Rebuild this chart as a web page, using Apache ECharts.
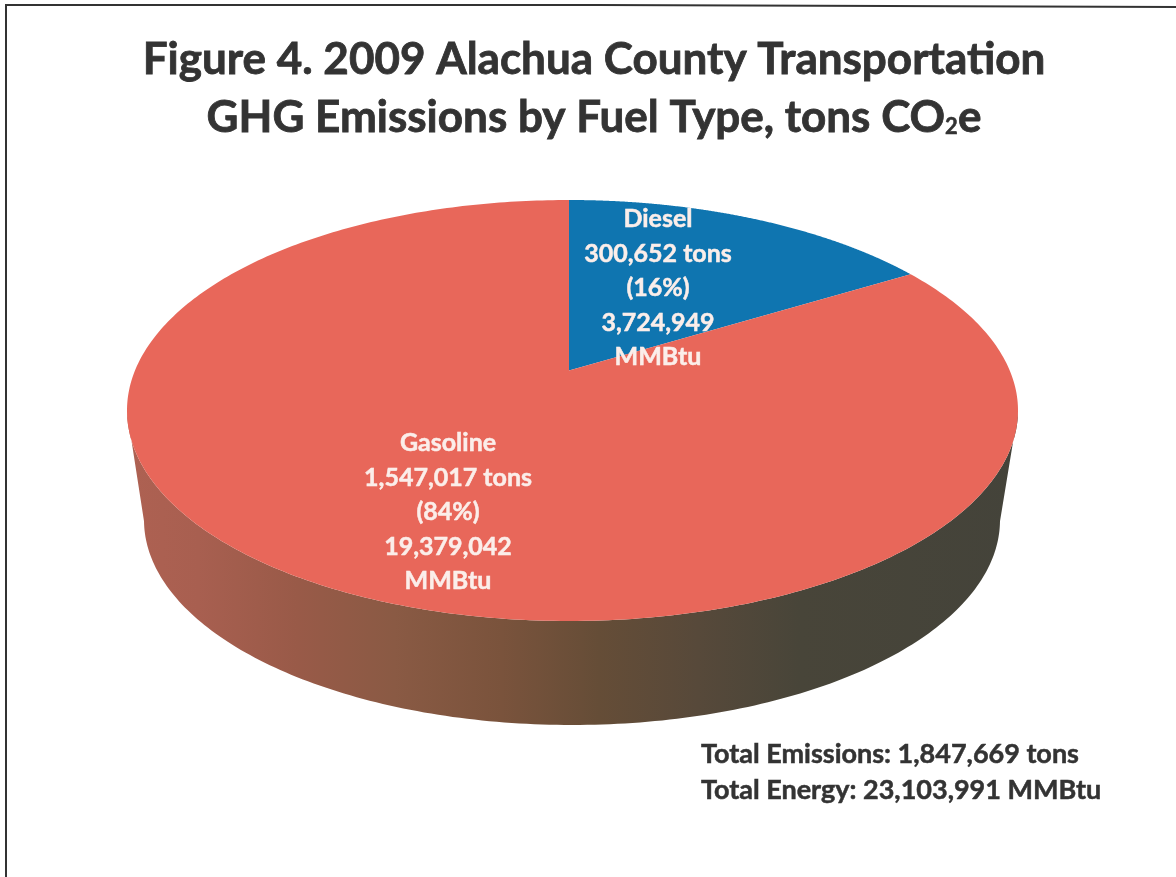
<!DOCTYPE html>
<html>
<head>
<meta charset="utf-8">
<title>Figure 4</title>
<script src="https://cdn.jsdelivr.net/npm/echarts@6/dist/echarts.min.js"></script>
<style>
  html, body { margin: 0; padding: 0; background: #fff; }
  #chart { width: 1176px; height: 877px; }
</style>
</head>
<body>
<div id="chart"></div>
<script>
// data
const fuelNames = ['Diesel', 'Gasoline']
const fuelTons = [300652, 1547017]
const fuelEnergy = [3724949, 19379042]

const totalTons = fuelTons.reduce((a, b) => a + b, 0)
const totalEnergy = fuelEnergy.reduce((a, b) => a + b, 0)
const fmt = n => n.toLocaleString('en-US')

// pie geometry: top face ellipse, base ellipse, tilt moves the centre towards the back
const topFace = { cx: 572.5, cy: 410.5, rx: 445.5, ry: 210.5 }
const baseFace = { cx: 572, cy: 520, rx: 428, ry: 205 }
const tilt = 0.19
const lean = 3.5
const labelSpots = [{ x: 658, y: 219 }, { x: 448, y: 443 }]
const labelStep = 34.5
const labelColor = '#fbeeea'
const sliceColors = ['#0f75b0', '#e8675a']
const inkColor = '#333'

// unit circle (clockwise from 12 o'clock) seen in perspective
function project(angle) {
  const x = Math.sin(angle)
  const y = Math.cos(angle)
  const d = 1 + tilt * y
  return [x * Math.sqrt(1 - tilt * tilt) / d, (y + tilt) / d]
}
function onTop(p) {
  return [topFace.cx + topFace.rx * p[0] - lean * (1 - p[0] * p[0]), topFace.cy - topFace.ry * p[1]]
}
function onBase(p) {
  return [baseFace.cx + baseFace.rx * p[0], baseFace.cy - baseFace.ry * p[1]]
}

function renderSlice(params, api) {
  const start = api.value(0) / totalTons * Math.PI * 2
  const end = start + api.value(1) / totalTons * Math.PI * 2
  const steps = 360
  const arc = []
  for (let i = 0; i <= steps; i++) {
    arc.push(project(start + (end - start) * i / steps))
  }
  const children = []

  // side wall, only the part of the rim facing the viewer
  const front = arc.filter(p => p[1] <= 0)
  if (front.length > 1) {
    children.push({
      type: 'polygon',
      shape: { points: front.map(onTop).concat(front.slice().reverse().map(onBase)) },
      style: {
        fill: new echarts.graphic.LinearGradient(0, 0, 1, 0, [
          { offset: 0, color: '#ae6152' },
          { offset: 0.08, color: '#a85f50' },
          { offset: 0.19, color: '#995a48' },
          { offset: 0.3, color: '#8a5a44' },
          { offset: 0.42, color: '#7a533c' },
          { offset: 0.53, color: '#654d37' },
          { offset: 0.64, color: '#57493a' },
          { offset: 0.755, color: '#484539' },
          { offset: 1, color: '#44433a' }
        ])
      }
    })
  }

  // top face
  children.push({
    type: 'polygon',
    z2: 2,
    shape: { points: [onTop([0, tilt])].concat(arc.map(onTop)) },
    style: { fill: sliceColors[params.dataIndex] }
  })

  // label lines
  const i = params.dataIndex
  const lines = [
    fuelNames[i],
    fmt(fuelTons[i]) + ' tons',
    '(' + Math.round(fuelTons[i] / totalTons * 100) + '%)',
    fmt(fuelEnergy[i]),
    'MMBtu'
  ]
  lines.forEach((line, n) => {
    children.push({
      type: 'text',
      z2: 10,
      style: {
        x: labelSpots[i].x,
        y: labelSpots[i].y + n * labelStep,
        text: line,
        fill: labelColor,
        stroke: labelColor,
        lineWidth: 0.5,
        font: 'bold 25px Lato',
        align: 'center',
        verticalAlign: 'middle'
      }
    })
  })
  return { type: 'group', children: children }
}

const chart = echarts.init(document.getElementById('chart'))
let running = 0
const sliceData = fuelTons.map(v => {
  const row = [running, v]
  running += v
  return row
})

chart.setOption({
  animation: false,
  backgroundColor: '#fff',
  title: [
    {
      text: '{co|Figure 4. 2009 Alachua County Transportation}\n{co|GHG Emissions by Fuel Type, tons CO}{sub|2}{co|e}',
      left: 589,
      top: 26,
      textAlign: 'center',
      textStyle: {
        color: inkColor,
        fontFamily: 'Lato',
        fontWeight: 'bold',
        fontSize: 44,
        lineHeight: 58,
        align: 'center',
        rich: {
          co: {
            fontFamily: 'Lato', fontWeight: 'bold', fontSize: 44, color: inkColor, lineHeight: 58,
            textBorderColor: inkColor, textBorderWidth: 0.8
          },
          sub: {
            fontFamily: 'Lato', fontWeight: 'bold', fontSize: 22, color: inkColor, lineHeight: 49,
            verticalAlign: 'bottom', padding: [0, 0, 9, 0],
            textBorderColor: inkColor, textBorderWidth: 0.5
          }
        }
      }
    },
    {
      text: 'Total Emissions: ' + fmt(totalTons) + ' tons\nTotal Energy: ' + fmt(totalEnergy) + ' MMBtu',
      left: 696,
      top: 731,
      textStyle: {
        color: inkColor,
        fontFamily: 'Lato',
        fontWeight: 'bold',
        fontSize: 27,
        lineHeight: 36,
        textBorderColor: inkColor,
        textBorderWidth: 0.5
      }
    }
  ],
  graphic: [
    {
      type: 'polyline',
      shape: { points: [[6, 877], [6, 5], [600, 5], [1176, 7]] },
      style: { stroke: inkColor, lineWidth: 2, fill: null }
    }
  ],
  series: [
    {
      type: 'custom',
      coordinateSystem: 'none',
      silent: true,
      renderItem: renderSlice,
      data: sliceData
    }
  ]
})
</script>
</body>
</html>
